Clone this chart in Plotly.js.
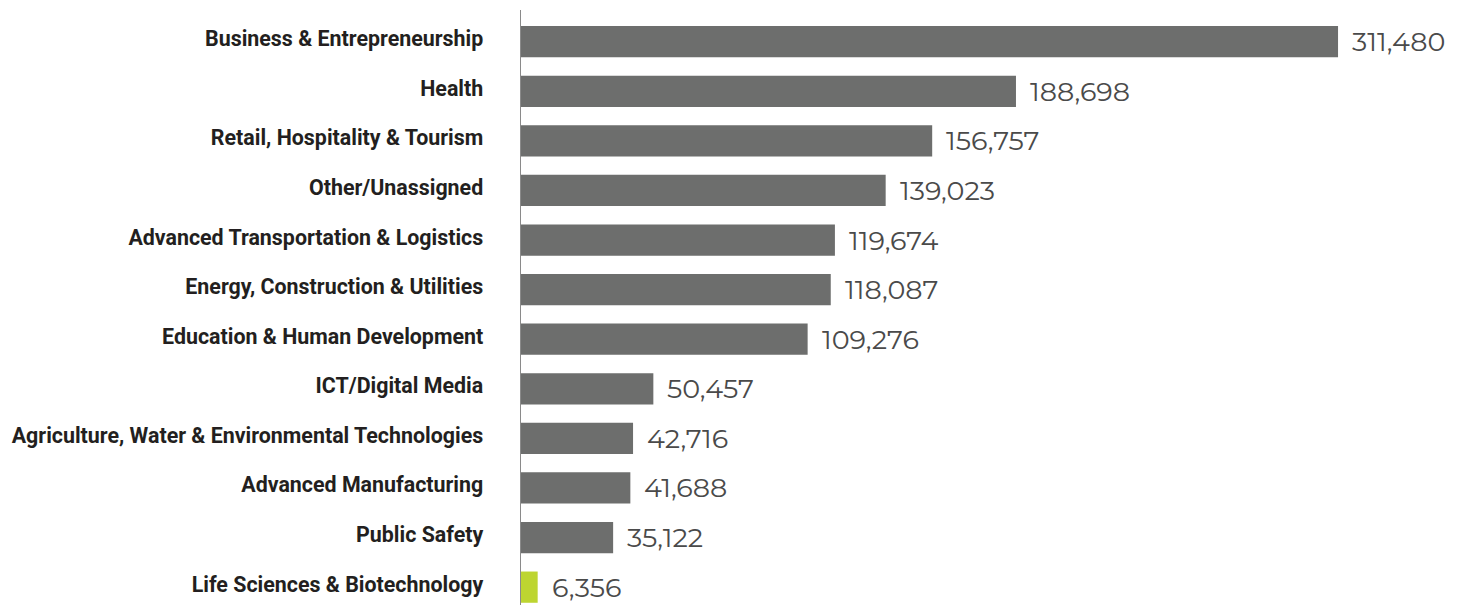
<!DOCTYPE html>
<html>
<head>
<meta charset="utf-8">
<script src="https://cdn.plot.ly/plotly-3.0.1.min.js"></script>
<style>html,body{margin:0;padding:0;background:#fff;}#chart{width:1464px;height:605px;}</style>
</head>
<body>
<div id="chart"></div>
<script>
var categories = [
  "Business & Entrepreneurship",
  "Health",
  "Retail, Hospitality & Tourism",
  "Other/Unassigned",
  "Advanced Transportation & Logistics",
  "Energy, Construction & Utilities",
  "Education & Human Development",
  "ICT/Digital Media",
  "Agriculture, Water & Environmental Technologies",
  "Advanced Manufacturing",
  "Public Safety",
  "Life Sciences & Biotechnology"
];
var values = [311480, 188698, 156757, 139023, 119674, 118087, 109276, 50457, 42716, 41688, 35122, 6356];
var highlight = "Life Sciences & Biotechnology";

var barColors = categories.map(function(c){ return c === highlight ? "#bdd531" : "#6d6e6d"; });

var trace = {
  type: "bar",
  orientation: "h",
  y: categories,
  x: values,
  width: 0.63,
  marker: {color: barColors},
  hoverinfo: "x+y"
};

var annotations = categories.map(function(c, i){
  return {
    x: values[i], y: c, xref: "x", yref: "y",
    text: values[i].toLocaleString("en-US"),
    showarrow: false, xanchor: "left", yanchor: "middle",
    xshift: 12, yshift: 0,
    font: {family: "Montserrat, 'Open Sans', sans-serif", size: 27, color: "#4a4a4a", weight: 400}
  };
});

var layout = {
  width: 1464, height: 605,
  margin: {l: 521, r: 0, t: 10, b: 0, pad: 0},
  paper_bgcolor: "#ffffff", plot_bgcolor: "#ffffff",
  showlegend: false,
  bargap: 0.37,
  xaxis: {range: [0, 359500], visible: false, showgrid: false, zeroline: false},
  yaxis: {
    type: "category",
    range: [11.36, -0.64],
    showgrid: false, zeroline: false,
    showline: true, linecolor: "#8a8a8a", linewidth: 1.5,
    ticks: "", ticklabelstandoff: 32, ticklabelshift: 3,
    tickfont: {family: "'Liberation Sans Narrow', 'Roboto', sans-serif", size: 21.4, color: "#231f20", weight: 700}
  },
  annotations: annotations
};

Plotly.newPlot("chart", [trace], layout, {displayModeBar: false, staticPlot: true});
</script>
</body>
</html>
